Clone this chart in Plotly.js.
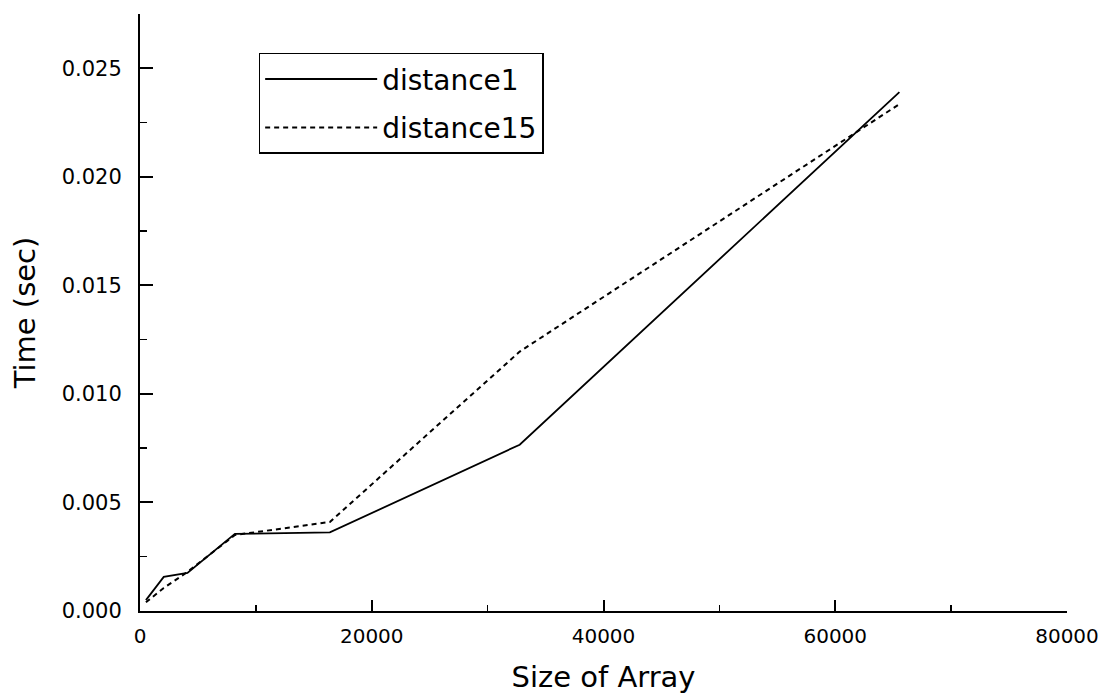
<!DOCTYPE html>
<html>
<head>
<meta charset="utf-8">
<script src="https://cdn.plot.ly/plotly-3.0.1.min.js"></script>
<style>html,body{margin:0;padding:0;background:#fff;}#chart{width:1104px;height:695px;}</style>
</head>
<body>
<div id="chart"></div>
<script>
const arraySizes = [512, 2048, 4096, 8192, 16384, 32768, 65536];
const distance1 = [0.00050, 0.00157, 0.00175, 0.00355, 0.00362, 0.00766, 0.02390];
const distance15 = [0.00040, 0.00106, 0.00180, 0.00350, 0.00410, 0.01195, 0.02335];
const seriesNames = ['distance1', 'distance15'];

const fontFam = 'DejaVu Sans, Liberation Sans, Arial, sans-serif';

const traces = [
  {x: arraySizes, y: distance1, name: seriesNames[0], mode: 'lines', legendgroup: 'g1',
   line: {color: '#000', width: 1.8, dash: 'solid'}},
  {x: arraySizes, y: distance15, name: seriesNames[1], mode: 'lines', legendgroup: 'g2',
   line: {color: '#000', width: 2, dash: '5px,4px'}}
];

const layout = {
  width: 1104, height: 695,
  margin: {l: 140, r: 37, t: 14, b: 84},
  paper_bgcolor: '#fff', plot_bgcolor: '#fff',
  font: {family: fontFam, color: '#000'},
  showlegend: true,
  legend: {x: 0.128, y: 0.935, xanchor: 'left', yanchor: 'top',
    bordercolor: '#000', borderwidth: 1.5, bgcolor: '#fff',
    font: {size: 28, family: fontFam}, itemwidth: 112,
    traceorder: 'grouped', tracegroupgap: 9},
  xaxis: {
    range: [0, 80000], dtick: 20000, tick0: 0, tickformat: 'd',
    showline: true, linecolor: '#000', linewidth: 2,
    ticks: 'inside', ticklen: 11, tickwidth: 2, tickcolor: '#000',
    minor: {dtick: 10000, ticks: 'inside', ticklen: 6, tickwidth: 1.5, tickcolor: '#000'},
    showgrid: false, zeroline: false,
    tickfont: {size: 20}, ticklabelstandoff: 6,
    title: {text: 'Size of Array', font: {size: 29}, standoff: 20}
  },
  yaxis: {
    range: [0, 0.0275], dtick: 0.005, tick0: 0, tickformat: '.3f',
    showline: true, linecolor: '#000', linewidth: 2,
    ticks: 'inside', ticklen: 13, tickwidth: 2, tickcolor: '#000',
    minor: {dtick: 0.0025, ticks: 'inside', ticklen: 7, tickwidth: 1.5, tickcolor: '#000'},
    showgrid: false, zeroline: false,
    tickfont: {size: 21}, ticklabelstandoff: 12,
    title: {text: 'Time (sec)', font: {size: 29}, standoff: 18}
  }
};

Plotly.newPlot('chart', traces, layout, {displayModeBar: false, staticPlot: true});
</script>
</body>
</html>
